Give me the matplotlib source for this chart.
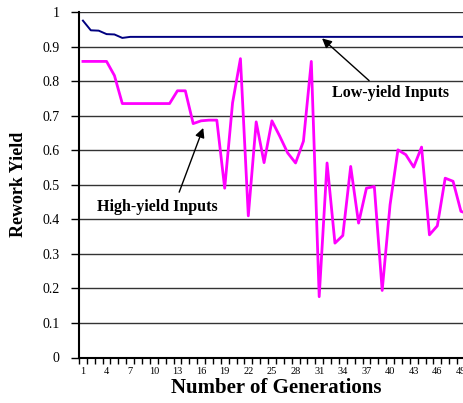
import numpy as np
import matplotlib
matplotlib.use("Agg")
import matplotlib.pyplot as plt

# generations 1..50
generations = np.arange(1, 51)

# rework yield, low-yield inputs (blue)
low_yield = [0.975, 0.947, 0.946, 0.936, 0.935, 0.925, 0.928, 0.928, 0.928, 0.928,
             0.928, 0.928, 0.928, 0.928, 0.928, 0.928, 0.928, 0.928, 0.928, 0.928,
             0.928, 0.928, 0.928, 0.928, 0.928, 0.928, 0.928, 0.928, 0.928, 0.928,
             0.928, 0.928, 0.928, 0.928, 0.928, 0.928, 0.928, 0.928, 0.928, 0.928,
             0.928, 0.928, 0.928, 0.928, 0.928, 0.928, 0.928, 0.928, 0.928, 0.928]

# rework yield, high-yield inputs (magenta)
high_yield = [0.857, 0.857, 0.857, 0.857, 0.816, 0.735, 0.735, 0.735, 0.735, 0.735,
              0.735, 0.735, 0.772, 0.772, 0.677, 0.685, 0.687, 0.687, 0.490, 0.737,
              0.865, 0.410, 0.682, 0.564, 0.685, 0.640, 0.592, 0.563, 0.626, 0.857,
              0.176, 0.563, 0.331, 0.353, 0.553, 0.389, 0.490, 0.495, 0.194, 0.442,
              0.601, 0.587, 0.551, 0.609, 0.355, 0.381, 0.519, 0.510, 0.423, 0.415]

xtick_labels = [str(g) for g in range(1, 51, 3)]

serif = ["Liberation Serif", "DejaVu Serif"]

fig = plt.figure(figsize=(4.64, 4.03), dpi=100)
# axes runs past the right edge, as in the original crop
ax = fig.add_axes([79 / 464, (403 - 357.5) / 403, 393.75 / 464, 345.5 / 403])

ax.plot(generations, low_yield, color="#000080", lw=1.4, zorder=3)
ax.plot(generations, high_yield, color="#FF00FF", lw=2.0, zorder=3)

ax.set_xlim(0.5, 50.5)
ax.set_ylim(0, 1)

# horizontal gridlines
ax.set_yticks(np.arange(0, 1.01, 0.1))
ax.set_yticklabels(["0"] + ["%.1f" % v for v in np.arange(0.1, 0.95, 0.1)] + ["1"],
                   family=serif, fontsize=10)
ax.yaxis.grid(True, color="#333333", lw=1.0)
ax.set_axisbelow(True)

ax.set_xticks(range(1, 51, 3))
ax.set_xticklabels(xtick_labels, family=serif, fontsize=7.5)
ax.set_xticks(np.arange(0.5, 51, 1), minor=True)
ax.tick_params(axis="x", which="major", length=0, pad=7)
ax.tick_params(axis="x", which="minor", length=4, width=1, direction="out")
ax.tick_params(axis="y", length=6, width=1, direction="out", pad=8)

for s in ["top", "right"]:
    ax.spines[s].set_visible(False)
ax.spines["left"].set_linewidth(1.5)
ax.spines["bottom"].set_linewidth(1.5)

ax.set_xlabel("Number of Generations", family=serif, fontsize=15,
              fontweight="bold", labelpad=1)
ax.set_ylabel("Rework Yield", family=serif, fontsize=13,
              fontweight="bold", labelpad=11)

arrow = dict(arrowstyle="-|>", color="black", lw=1.0, mutation_scale=14)
ax.annotate("", xy=(31.1, 0.929), xytext=(37.6, 0.796), arrowprops=arrow)
ax.text(40.1, 0.767, "Low-yield Inputs", family=serif, fontsize=11.5,
        fontweight="bold", ha="center", va="center")
ax.annotate("", xy=(16.4, 0.672), xytext=(13.1, 0.471), arrowprops=arrow)
ax.text(10.4, 0.436, "High-yield Inputs", family=serif, fontsize=11.5,
        fontweight="bold", ha="center", va="center")

fig.savefig("out.png", dpi=100)
